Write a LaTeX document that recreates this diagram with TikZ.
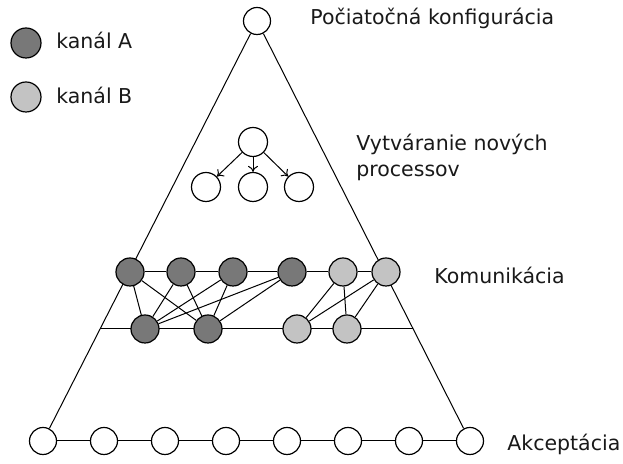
\documentclass[tikz,border=0pt]{standalone}
\usepackage{fontspec}
\setmainfont{DejaVu Sans}
\usetikzlibrary{backgrounds,calc,arrows.meta}
\definecolor{chA}{HTML}{787878}
\definecolor{chB}{HTML}{C3C3C3}
\tikzset{
  px/.style={x=0.5pt,y=-0.5pt},
  st/.style={circle,draw=black,line width=0.6pt,fill=white,minimum size=13.5pt,inner sep=0pt},
  stA/.style={st,fill=chA,minimum size=14pt},
  stB/.style={st,fill=chB,minimum size=14pt},
  lbl/.style={anchor=base west,font=\fontsize{10.25}{12}\selectfont,text=black!90,inner sep=0pt},
  edge/.style={line width=0.5pt,draw=black},
  spawn/.style={edge,-{To[length=3pt,width=5pt]}}
}
\begin{document}
\begin{tikzpicture}[px]
\useasboundingbox (0,0) rectangle (623,464);
% legend
\node[stA,minimum size=15pt] (legA) at (26,43) {};
\node[lbl] (legAt) at (56,49) {kanál A};
\node[stB,minimum size=15pt] (legB) at (26,97) {};
\node[lbl] (legBt) at (56,104) {kanál B};
% labels
\node[lbl] (t1) at (310,25) {Počiatočná konfigurácia};
\node[lbl] (t2) at (356,151) {Vytváranie nových};
\node[lbl] (t3) at (356,177) {processov};
\node[lbl] (t4) at (434,284) {Komunikácia};
\node[lbl] (t5) at (507,451) {Akceptácia};
% top
\node[st] (top) at (257,21) {};
% bottom row
\foreach \i in {1,...,8} {
  \node[st] (b\i) at ({43+61*(\i-1)},441) {};
}
% spawning
\node[st,minimum size=14.5pt] (p) at (253,142) {};
\node[st,minimum size=14.5pt] (c1) at (206,187) {};
\node[st,minimum size=14.5pt] (c2) at (253,187) {};
\node[st,minimum size=14.5pt] (c3) at (299,187) {};
\draw[spawn] (p) -- (c1);
\draw[spawn] (p) -- (c2);
\draw[spawn] (p) -- (c3);
% communication
\node[stA] (u1) at (130,272) {};
\node[stA] (u2) at (181,272) {};
\node[stA] (u3) at (233,272) {};
\node[stA] (u4) at (292,272) {};
\node[stB] (u5) at (343,272) {};
\node[stB] (u6) at (386,272) {};
\node[stA] (d1) at (145,329) {};
\node[stA] (d2) at (208,329) {};
\node[stB] (d3) at (297,329) {};
\node[stB] (d4) at (347,329) {};
\coordinate (hl) at ($(top)!0.7333!(b1)$);
\coordinate (hr) at ($(top)!0.7333!(b8)$);
\begin{pgfonlayer}{background}
  \draw[edge] (top) -- (b1);
  \draw[edge] (top) -- (b8);
  \foreach \i [evaluate=\i as \j using int(\i+1)] in {1,...,7} {
    \draw[edge] (b\i) -- (b\j);
  }
  \draw[edge] (hl) -- (hr);
  \draw[edge] (u1) -- (u2) -- (u3) -- (u4) -- (u5) -- (u6);
  \foreach \a in {u1,u2,u3,u4} {
    \draw[edge] (\a) -- (d1);
    \draw[edge] (\a) -- (d2);
  }
  \foreach \a in {u5,u6} {
    \draw[edge] (\a) -- (d3);
    \draw[edge] (\a) -- (d4);
  }
\end{pgfonlayer}
\end{tikzpicture}
\end{document}
